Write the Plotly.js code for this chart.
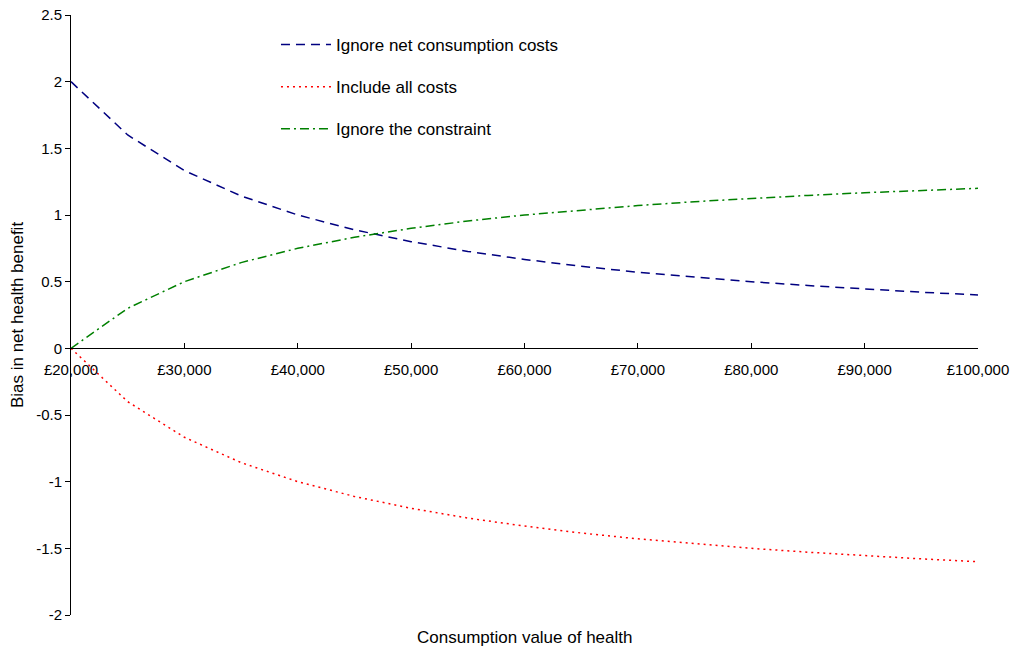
<!DOCTYPE html>
<html>
<head>
<meta charset="utf-8">
<script src="https://cdn.plot.ly/plotly-3.0.1.min.js"></script>
<style>html,body{margin:0;padding:0;background:#fff;}#chart{width:1010px;height:653px;}</style>
</head>
<body>
<div id="chart"></div>
<script>
const consumptionValue = [20000, 25000, 30000, 35000, 40000, 45000, 50000, 55000, 60000, 65000, 70000, 75000, 80000, 85000, 90000, 95000, 100000];
const ignoreNetConsumption = [2, 1.6, 1.333, 1.143, 1, 0.889, 0.8, 0.727, 0.667, 0.615, 0.571, 0.533, 0.5, 0.471, 0.444, 0.421, 0.4];
const includeAllCosts = [0, -0.4, -0.667, -0.857, -1, -1.111, -1.2, -1.273, -1.333, -1.385, -1.429, -1.467, -1.5, -1.529, -1.556, -1.579, -1.6];
const ignoreConstraint = [0, 0.3, 0.5, 0.643, 0.75, 0.833, 0.9, 0.955, 1, 1.038, 1.071, 1.1, 1.125, 1.147, 1.167, 1.184, 1.2];

const xTickVals = [20000, 30000, 40000, 50000, 60000, 70000, 80000, 90000, 100000];
const xTickText = ['£20,000', '£30,000', '£40,000', '£50,000', '£60,000', '£70,000', '£80,000', '£90,000', '£100,000'];
const yTickVals = [2.5, 2, 1.5, 1, 0.5, 0, -0.5, -1, -1.5, -2];
const yTickText = ['2.5', '2', '1.5', '1', '0.5', '0', '-0.5', '-1', '-1.5', '-2'];

const family = '"Liberation Sans", Arial, sans-serif';
const tickFont = {family: family, size: 15, color: '#000'};
const bigFont = {family: family, size: 17, color: '#000'};

const traces = [
  {x: consumptionValue, y: ignoreNetConsumption, name: 'Ignore net consumption costs', mode: 'lines', legendgroup: 'a',
   line: {color: '#000080', width: 1.5, dash: '9px,6px'}},
  {x: consumptionValue, y: includeAllCosts, name: 'Include all costs', mode: 'lines', legendgroup: 'b',
   line: {color: '#ff0000', width: 1.5, dash: '2px,4px'}},
  {x: consumptionValue, y: ignoreConstraint, name: 'Ignore the constraint', mode: 'lines', legendgroup: 'c',
   line: {color: '#008000', width: 1.5, dash: '9px,4px,2px,4px'}}
];

const layout = {
  width: 1010, height: 653,
  margin: {l: 71, r: 32, t: 15, b: 38},
  paper_bgcolor: '#fff', plot_bgcolor: '#fff',
  font: tickFont,
  showlegend: true,
  legend: {x: 0.226, y: 0.98, xanchor: 'left', yanchor: 'top', bgcolor: 'rgba(0,0,0,0)',
           font: bigFont, tracegroupgap: 17, itemwidth: 50},
  xaxis: {
    range: [20000, 100000], anchor: 'free', position: 2 / 4.5,
    tickvals: xTickVals, ticktext: xTickText,
    showline: true, linecolor: '#000', linewidth: 1,
    ticks: 'inside', ticklen: 5, tickcolor: '#000',
    showgrid: false, zeroline: false, tickfont: tickFont, ticklabelstandoff: 8
  },
  yaxis: {
    range: [-2, 2.5],
    tickvals: yTickVals, ticktext: yTickText,
    showline: true, linecolor: '#000', linewidth: 1,
    ticks: 'outside', ticklen: 5, tickcolor: '#000',
    showgrid: false, zeroline: false, tickfont: tickFont,
    title: {text: 'Bias in net health benefit', font: bigFont, standoff: 8}
  },
  annotations: [
    {text: 'Consumption value of health', xref: 'paper', yref: 'paper', x: 0.5, y: -0.038,
     xanchor: 'center', yanchor: 'middle', showarrow: false, font: bigFont}
  ]
};

Plotly.newPlot('chart', traces, layout, {displayModeBar: false, staticPlot: true});
</script>
</body>
</html>
